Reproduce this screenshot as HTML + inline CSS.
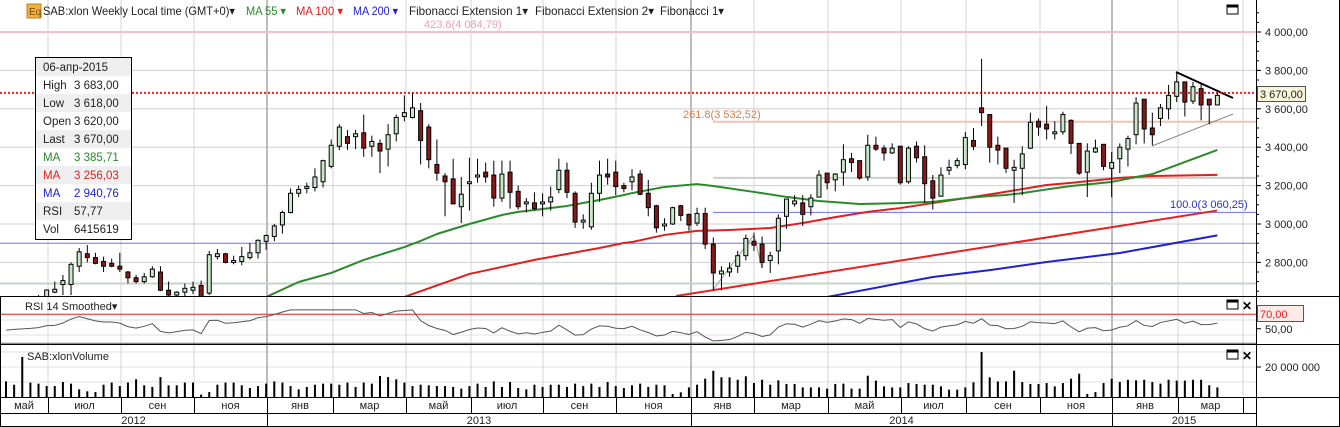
<!DOCTYPE html>
<html><head><meta charset="utf-8"><style>
html,body{margin:0;padding:0;background:#fff;}
svg{display:block;font-family:"Liberation Sans",Arial,sans-serif;}
</style></head><body>
<svg id="chart" width="1340" height="427" viewBox="0 0 1340 427" xmlns="http://www.w3.org/2000/svg">
<defs><clipPath id="mainClip"><rect x="0" y="0" width="1256" height="296"/></clipPath></defs>
<rect x="0" y="0" width="1340" height="427" fill="#fff"/>
<g id="grid"></g>
<g id="overlays" clip-path="url(#mainClip)"></g>
<g id="candles" clip-path="url(#mainClip)"></g>
<g id="rsiG"></g>
<g id="volG"></g>
<g id="axes"></g>

<!-- header -->
<rect x="27" y="4" width="14" height="14" fill="#f0b040" stroke="#c08020"/>
<text x="29" y="15" font-size="10" fill="#7a4a00">Eq</text>
<text x="43" y="15" font-size="12" fill="#222" textLength="192" lengthAdjust="spacingAndGlyphs">SAB:xlon Weekly Local time (GMT+0)▾</text>
<text x="246" y="15" font-size="12" fill="#2a8a2a" textLength="40" lengthAdjust="spacingAndGlyphs">MA 55 ▾</text>
<text x="296" y="15" font-size="12" fill="#e02020" textLength="47" lengthAdjust="spacingAndGlyphs">MA 100 ▾</text>
<text x="353" y="15" font-size="12" fill="#2020d0" textLength="45" lengthAdjust="spacingAndGlyphs">MA 200 ▾</text>
<text x="409" y="15" font-size="12" fill="#222" textLength="119" lengthAdjust="spacingAndGlyphs">Fibonacci Extension 1▾</text>
<text x="535" y="15" font-size="12" fill="#222" textLength="119" lengthAdjust="spacingAndGlyphs">Fibonacci Extension 2▾</text>
<text x="660" y="15" font-size="12" fill="#222" textLength="64" lengthAdjust="spacingAndGlyphs">Fibonacci 1▾</text>
<rect x="1227" y="5" width="11" height="9" fill="#fff" stroke="#000" stroke-width="1"/>
<line x1="1227" y1="6.5" x2="1238" y2="6.5" stroke="#000" stroke-width="2"/>

<!-- fib labels -->
<text x="424" y="28" font-size="11" fill="#f0a0a8">423.6(4 084,79)</text>
<text x="683" y="118" font-size="11" fill="#d08050">261.8(3 532,52)</text>
<text x="1170" y="208" font-size="11" fill="#3030c0">100.0(3 060,25)</text>

<!-- tooltip -->
<g>
<rect x="35.5" y="57.5" width="96" height="182" fill="#fff" stroke="#000"/>
<rect x="36" y="58" width="95" height="18" fill="#efefef"/>
<rect x="36" y="94" width="95" height="18" fill="#efefef"/>
<rect x="36" y="130" width="95" height="18" fill="#efefef"/>
<rect x="36" y="166" width="95" height="18" fill="#efefef"/>
<rect x="36" y="202" width="95" height="18" fill="#efefef"/>
<g font-size="11.5">
<text x="43" y="71" fill="#222">06-апр-2015</text>
<text x="43" y="89" fill="#222">High</text><text x="74" y="89" fill="#222">3 683,00</text>
<text x="43" y="107" fill="#222">Low</text><text x="74" y="107" fill="#222">3 618,00</text>
<text x="43" y="125" fill="#222">Open</text><text x="74" y="125" fill="#222">3 620,00</text>
<text x="43" y="143" fill="#222">Last</text><text x="74" y="143" fill="#222">3 670,00</text>
<text x="43" y="161" fill="#2a8a2a">MA</text><text x="74" y="161" fill="#2a8a2a">3 385,71</text>
<text x="43" y="179" fill="#e02020">MA</text><text x="74" y="179" fill="#e02020">3 256,03</text>
<text x="43" y="197" fill="#2020d0">MA</text><text x="74" y="197" fill="#2020d0">2 940,76</text>
<text x="43" y="215" fill="#222">RSI</text><text x="74" y="215" fill="#222">57,77</text>
<text x="43" y="233" fill="#222">Vol</text><text x="74" y="233" fill="#222">6415619</text>
</g></g>

<!-- panel labels -->
<text x="25" y="310" font-size="11" fill="#222">RSI 14 Smoothed▾</text>
<text x="27" y="360" font-size="11" fill="#222">SAB:xlonVolume</text>
<rect x="1227" y="300" width="11" height="9" fill="#fff" stroke="#000"/>
<line x1="1227" y1="301.5" x2="1238" y2="301.5" stroke="#000" stroke-width="2"/>
<text x="1242" y="310" font-size="12" font-weight="bold" fill="#000">✕</text>
<rect x="1227" y="350" width="11" height="9" fill="#fff" stroke="#000"/>
<line x1="1227" y1="351.5" x2="1238" y2="351.5" stroke="#000" stroke-width="2"/>
<text x="1242" y="360" font-size="12" font-weight="bold" fill="#000">✕</text>
</svg>
<script>
const opens=[2590,2600,2580,2595,2605,2620,2645,2685,2685,2780,2845,2825,2805,2795,2780,2750,2720,2700,2725,2750,2655,2630,2645,2655,2680,2640,2830,2845,2800,2805,2825,2850,2910,2935,2995,3060,3160,3185,3190,3220,3300,3405,3455,3455,3475,3405,3420,3390,3470,3560,3555,3590,3505,3310,3250,3235,3090,3210,3245,3270,3255,3135,3270,3170,3105,3110,3105,3115,3180,3280,3160,3010,2985,3160,3260,3270,3200,3220,3260,3160,3095,2990,3000,3095,3050,3005,3055,2895,2740,2750,2780,2835,2910,2895,2810,2860,3040,3105,3110,3090,3140,3265,3230,3270,3340,3330,3245,3410,3395,3370,3405,3220,3405,3350,3225,3145,3280,3305,3310,3435,3605,3570,3410,3395,3280,3290,3395,3535,3520,3470,3480,3540,3420,3270,3375,3415,3290,3340,3390,3465,3650,3500,3550,3600,3665,3740,3640,3705,3650,3620];
const closes=[2600,2585,2595,2605,2620,2656,2660,2705,2790,2855,2825,2795,2780,2780,2765,2720,2700,2725,2765,2655,2630,2645,2665,2670,2615,2840,2845,2800,2810,2830,2850,2915,2940,2990,3060,3160,3180,3195,3245,3330,3410,3505,3420,3470,3395,3430,3380,3465,3555,3580,3605,3435,3335,3265,3220,3105,3155,3220,3255,3245,3135,3260,3165,3090,3115,3080,3115,3140,3280,3165,3010,3020,3160,3255,3245,3195,3185,3245,3155,3085,2980,3000,3085,3045,2995,3055,2895,2745,2755,2770,2835,2925,2890,2800,2835,3030,3130,3120,3050,3135,3255,3215,3260,3335,3320,3240,3410,3390,3370,3395,3215,3395,3345,3210,3135,3255,3295,3330,3450,3405,3580,3400,3385,3290,3295,3365,3530,3505,3495,3480,3570,3420,3265,3380,3395,3300,3320,3400,3445,3630,3495,3465,3605,3670,3740,3635,3715,3620,3620,3670];
const highs=[2610,2610,2605,2615,2630,2660,2700,2735,2800,2875,2890,2850,2830,2820,2850,2755,2735,2745,2780,2780,2700,2650,2690,2700,2705,2860,2870,2850,2835,2880,2900,2920,2945,3000,3070,3185,3200,3215,3290,3335,3440,3520,3490,3490,3570,3460,3440,3520,3570,3670,3683,3630,3520,3440,3265,3340,3245,3345,3340,3320,3330,3330,3330,3200,3135,3165,3160,3195,3340,3320,3170,3050,3215,3330,3340,3330,3215,3285,3280,3230,3100,3030,3090,3100,3055,3085,3085,2930,2780,2800,2860,2945,2955,2935,2855,3050,3130,3150,3150,3155,3280,3265,3265,3415,3370,3330,3465,3455,3410,3420,3405,3405,3430,3410,3255,3295,3335,3345,3480,3500,3860,3570,3455,3395,3335,3405,3580,3550,3615,3535,3585,3545,3420,3420,3440,3415,3375,3420,3460,3660,3650,3580,3625,3725,3790,3740,3740,3735,3650,3683];
const lows=[2570,2575,2570,2585,2595,2610,2640,2630,2630,2750,2800,2790,2750,2775,2750,2690,2690,2690,2720,2650,2620,2620,2620,2635,2600,2630,2815,2795,2790,2785,2815,2820,2865,2910,2950,3055,3140,3160,3170,3190,3290,3385,3385,3390,3350,3350,3265,3300,3430,3535,3550,3310,3290,3225,3040,3105,3005,3070,3215,3215,3090,3115,3080,3075,3060,3070,3040,3070,3160,3135,2980,2975,2970,3115,3205,3150,3165,3175,3150,3040,2955,2965,2995,3015,2965,2990,2870,2655,2655,2725,2745,2810,2860,2770,2745,2790,2975,3090,2990,3045,3140,3180,3170,3200,3270,3230,3225,3380,3330,3365,3205,3210,3320,3110,3075,3145,3255,3290,3285,3385,3510,3320,3310,3265,3110,3150,3390,3460,3440,3440,3465,3365,3255,3140,3370,3280,3140,3265,3300,3415,3420,3410,3510,3545,3635,3560,3625,3540,3520,3618];
const volumes=[10.4,8.2,26.7,9.6,8.9,7.3,7.3,10,8.9,5.1,3.8,3.3,8.2,9.6,7.3,9.6,11.8,7.8,6.7,13.3,7.8,7.8,9.6,9.6,1.6,3.3,8.2,9.6,9.6,7.8,6,7.3,8.9,10.4,9.6,7.3,5.1,6.7,8.2,8.9,8.9,8.2,9.6,6.7,9.6,8.9,14,13.3,11.8,9.6,7.3,8.2,7.8,7.3,7.3,6.7,5.6,7.3,8.9,6.7,10.4,6.7,10,6,5.1,8.2,6.7,8.2,8.2,6.7,8.9,7.3,8.9,6.7,10,7.3,6,7.8,8.9,6.7,8.2,7.8,2,3.1,6.4,8.2,12.2,17.5,13.1,13.1,11.5,13.8,9.3,11.5,8.2,11.1,8.7,8.7,6.4,6.4,6.4,5.6,8.7,8.9,5.6,5.6,14.2,10.9,7.1,6.4,6.4,9.3,8.7,8.2,8.2,7.1,4.9,4.9,6.4,9.8,30,13.1,10.4,10.4,17.5,10,8.7,8.7,9.3,7.1,9.3,12.2,15.5,2,3.3,9.3,12.2,10,11.5,11.1,11.5,10,8.9,11.5,10.9,10.9,11.5,11.5,7.8,6.4];
const ma55Idx=[32,36,40,44,49,51,53,57,61,63,65,69,73,76,77,81,85,87,92,96,100,105,110,114,118,121,123,125,128,131,136,139,141,144,149];
const ma55Val=[2620,2698,2745,2813,2880,2912,2948,3000,3047,3063,3073,3094,3125,3151,3161,3193,3208,3198,3167,3141,3120,3104,3109,3115,3135,3146,3151,3161,3180,3198,3219,3245,3260,3307,3385.71];
const ma100Idx=[49,57,65,73,76,77,81,85,89,94,98,102,106,110,114,118,122,128,131,137,141,149];
const ma100Val=[2620,2740,2813,2875,2901,2906,2943,2964,2969,2979,3005,3036,3063,3083,3109,3135,3161,3203,3214,3240,3250,3256.03];
const ma200Idx=[101,114,121,128,137,149];
const ma200Val=[2620,2724,2760,2802,2849,2940.76];
const priceTicks=[4000,3800,3600,3400,3200,3000,2800];
const priceTickLabels=["4 000,00","3 800,00","3 600,00","3 400,00","3 200,00","3 000,00","2 800,00"];
const monthLabels=["май","июл","сен","ноя","янв","мар","май","июл","сен","ноя","янв","мар","май","июл","сен","ноя","янв","мар"];
const monthBounds=[0,48,121,194,267,333,406,471,543,616,691,754,828,901,966,1040,1112,1178,1243];
const yearLabels=["2012","2013","2014","2015"];
const yearBounds=[0,267,691,1112,1256];

const NS="http://www.w3.org/2000/svg";
function mk(tag,attrs,parent){const e=document.createElementNS(NS,tag);for(const k in attrs)e.setAttribute(k,attrs[k]);parent.appendChild(e);return e;}
const xOf=i=>6+i*8.13;
const yP=p=>32+(4000-p)*0.192;
const yV=v=>397-v*1.5;
const yR=r=>328.7-(r-50)*0.725;
const grid=document.getElementById('grid'),ov=document.getElementById('overlays'),cg=document.getElementById('candles');
const rg=document.getElementById('rsiG'),vg=document.getElementById('volG'),ax=document.getElementById('axes');

priceTicks.forEach(p=>{const l=mk('line',{x1:0,x2:1256,y1:yP(p),y2:yP(p),stroke:'#d0d0d0','stroke-width':1},grid);

});
[320,335].forEach(y=>{mk('line',{x1:0,x2:1256,y1:y,y2:y,stroke:'#e0e0e0'},grid);});
[352,367,382].forEach(y=>{mk('line',{x1:0,x2:1256,y1:y,y2:y,stroke:'#e0e0e0'},grid);});
monthBounds.slice(1).forEach(x=>{const thick=yearBounds.indexOf(x)>=0;
const l=mk('line',{x1:x,x2:x,y1:0,y2:397,stroke:thick?'#bdbdbd':'#d4d4d4','stroke-width':thick?2:1},grid);

});

function hline(y,x1,color,w,name){const l=mk('line',{x1:x1,x2:1256,y1:y,y2:y,stroke:color,'stroke-width':w},ov);

}
hline(yP(4000),0,'#f4c0c8',2,'fib-423-line');
hline(yP(3532.52),713,'#f0c4b8',2,'fib-261-line');
hline(yP(3240),713,'#c8d0c8',2,'fib-level-line');
hline(yP(3060.25),713,'#7070f0',1,'fib-100-line');
hline(yP(2900),0,'#7070f0',1,'fib-base-line');
hline(yP(2690),0,'#c8d4c8',2,'fib-zero-line');
const tl=mk('line',{x1:676,y1:yP(2625),x2:1217,y2:yP(3070),stroke:'#e82020','stroke-width':2},ov);


mk('polyline',{points:'713,290 754,235 762,268',fill:'none',stroke:'#999','stroke-width':1},ov);
const t1=mk('line',{x1:1176,y1:72,x2:1233,y2:98,stroke:'#000','stroke-width':2},ov);


const t2=mk('line',{x1:1152,y1:146,x2:1233,y2:114,stroke:'#888','stroke-width':1},ov);


const lastLine=mk('line',{x1:0,x2:1256,y1:yP(3683),y2:yP(3683),stroke:'#e82020','stroke-width':2,'stroke-dasharray':'2,2'},ov);



function maLine(idx,val,color,name){const pts=idx.map((i,k)=>xOf(i)+','+yP(val[k])).join(' ');
const pl=mk('polyline',{points:pts,fill:'none',stroke:color,'stroke-width':2,'stroke-linejoin':'round'},ov);

}
maLine(ma200Idx,ma200Val,'#2020d0','ma200-line');
maLine(ma100Idx,ma100Val,'#e02020','ma100-line');
maLine(ma55Idx,ma55Val,'#2a8a2a','ma55-line');

closes.forEach((c,i)=>{const o=opens[i],x=xOf(i);
const w=mk('line',{x1:x,x2:x,y1:yP(highs[i]),y2:yP(lows[i]),stroke:'#000','stroke-width':1},cg);


const top=yP(Math.max(o,c)),bot=yP(Math.min(o,c));
const r=mk('rect',{x:x-2,y:top,width:4,height:Math.max(1,bot-top),fill:c>=o?'#c8e8c8':'#8b1818',stroke:'#000','stroke-width':1},cg);

});

// RSI (Wilder 14 from closes, seeded neutral)
const rsi=[];let ag=30,al=30;
closes.forEach((c,i)=>{if(i===0){rsi.push(48);return;}const d=c-closes[i-1];const g=Math.max(d,0),l=Math.max(-d,0);
ag=(ag*13+g)/14;al=(al*13+l)/14;
rsi.push(al===0?100:100-100/(1+ag/al));});
const r70=mk('line',{x1:0,x2:1256,y1:yR(70),y2:yR(70),stroke:'#e02020','stroke-width':1},rg);


const r30=mk('line',{x1:0,x2:1256,y1:yR(30),y2:yR(30),stroke:'#2a8a2a','stroke-width':1},rg);


const rl=mk('polyline',{points:rsi.map((r,i)=>xOf(i)+','+yR(Math.max(33,Math.min(76,r)))).join(' '),fill:'none',stroke:'#555','stroke-width':1},rg);



volumes.forEach((v,i)=>{const b=mk('rect',{x:xOf(i)-1,y:yV(v),width:2,height:v*1.5,fill:'#000'},vg);

});

[[0,296.5,1340,296.5],[0,344.5,1340,344.5],[0,397.5,1340,397.5],[0,413.5,1256,413.5],[1256.5,0,1256.5,427],[0.5,296,0.5,427],[1339.5,0,1339.5,427],[0,426.5,1340,426.5]].forEach(a=>{
mk('line',{x1:a[0],y1:a[1],x2:a[2],y2:a[3],stroke:'#000','stroke-width':1},ax);});
priceTicks.forEach((p,k)=>{mk('line',{x1:1256,x2:1261,y1:yP(p),y2:yP(p),stroke:'#000'},ax);
const t=mk('text',{x:1265,y:yP(p)+4,'font-size':11,fill:'#222'},ax);t.textContent=priceTickLabels[k];

});
for(let p=2650;p<=4100;p+=50){mk('line',{x1:1256,x2:1259,y1:yP(p),y2:yP(p),stroke:'#000'},ax);}
const lb=mk('rect',{x:1257.5,y:86.5,width:48,height:15,fill:'#f8f4dc',stroke:'#555'},ax);


const lt=mk('text',{x:1260,y:98,'font-size':11,fill:'#222'},ax);lt.textContent='3 670,00';
const rb=mk('rect',{x:1257.5,y:305.5,width:46,height:16,fill:'#fbeae8',stroke:'#e02020'},ax);


const rt=mk('text',{x:1260,y:318,'font-size':11,fill:'#e02020'},ax);rt.textContent='70,00';
const r5=mk('text',{x:1265,y:333,'font-size':11,fill:'#222'},ax);r5.textContent='50,00';
mk('line',{x1:1256,x2:1261,y1:yR(50),y2:yR(50),stroke:'#000'},ax);
const vt=mk('text',{x:1265,y:371,'font-size':11,fill:'#222'},ax);vt.textContent='20 000 000';
mk('line',{x1:1256,x2:1261,y1:yV(20),y2:yV(20),stroke:'#000'},ax);
monthLabels.forEach((m,k)=>{const x0=monthBounds[k],x1=monthBounds[k+1];
mk('line',{x1:x1+0.5,x2:x1+0.5,y1:397,y2:413,stroke:'#000'},ax);
const t=mk('text',{x:(x0+x1)/2,y:409,'font-size':11,fill:'#222','text-anchor':'middle'},ax);t.textContent=m;

});
yearLabels.forEach((y,k)=>{const x0=yearBounds[k],x1=yearBounds[k+1];
mk('line',{x1:x1+0.5,x2:x1+0.5,y1:413,y2:427,stroke:'#000'},ax);
const t=mk('text',{x:(x0+x1)/2,y:424,'font-size':11,fill:'#222','text-anchor':'middle'},ax);t.textContent=y;

});
</script>
</body></html>
